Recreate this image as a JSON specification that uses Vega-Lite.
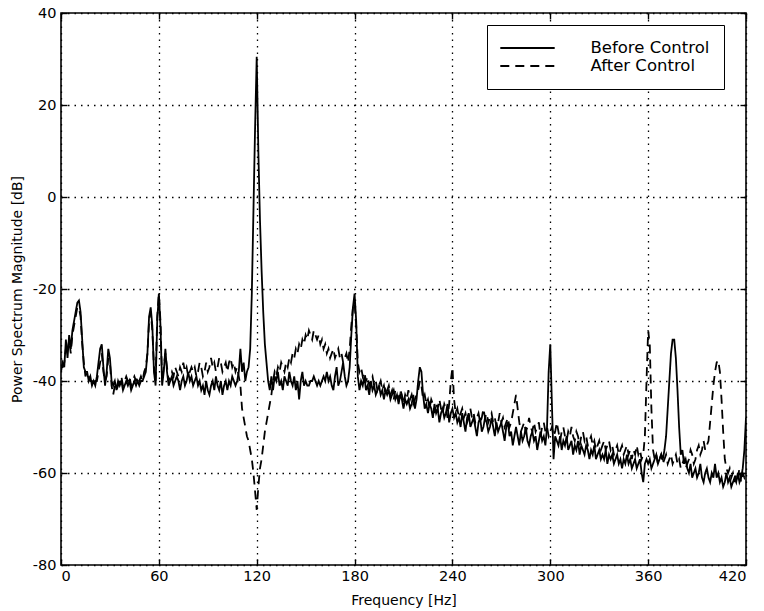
{
"$schema":"https://vega.github.io/schema/vega-lite/v6.json",
"width":685,"height":552,
"autosize":"none",
"padding":{"left":61,"top":13,"right":18,"bottom":46},
"background":"white",
"config":{
"font":"DejaVu Sans",
"view":{"stroke":"black","strokeWidth":1.6},
"axis":{"domain":false,"grid":true,"gridColor":"black","gridDash":[1.5,5],"gridWidth":1.3,"gridOpacity":1,"tickColor":"black","tickSize":-6,"tickWidth":1.4,"labelColor":"black","labelFont":"DejaVu Sans","labelFontSize":14.5,"titleFont":"DejaVu Sans","titleFontSize":14,"titleFontWeight":"normal","titleColor":"black"}
},
"data":{"values":[
{"f":0,"b":-38,"a":-37},{"f":1,"b":-36,"a":-37},{"f":2,"b":-37,"a":-36},{"f":3,"b":-31,"a":-33},{"f":4,"b":-35,"a":-34},{"f":5,"b":-30,"a":-31},{"f":6,"b":-33,"a":-34},{"f":7,"b":-29,"a":-30},{"f":8,"b":-27,"a":-28},{"f":9,"b":-25,"a":-26},
{"f":10,"b":-23,"a":-24},{"f":11,"b":-22.5,"a":-24},{"f":12,"b":-25,"a":-26},{"f":13,"b":-31,"a":-32},{"f":14,"b":-37,"a":-36},{"f":15,"b":-38,"a":-39},{"f":16,"b":-38,"a":-38},{"f":17,"b":-40,"a":-39},{"f":18,"b":-39,"a":-40},{"f":19,"b":-41,"a":-40},
{"f":20,"b":-40,"a":-41},{"f":21,"b":-41,"a":-40},{"f":22,"b":-39,"a":-40},{"f":23,"b":-36,"a":-38},{"f":24,"b":-33,"a":-36},{"f":25,"b":-32,"a":-34},{"f":26,"b":-37,"a":-38},{"f":27,"b":-41,"a":-40},{"f":28,"b":-38,"a":-39},{"f":29,"b":-33,"a":-35},
{"f":30,"b":-35,"a":-36},{"f":31,"b":-40,"a":-41},{"f":32,"b":-41,"a":-43},{"f":33,"b":-40,"a":-41},{"f":34,"b":-42,"a":-42},{"f":35,"b":-40,"a":-41},{"f":36,"b":-41,"a":-40},{"f":37,"b":-40,"a":-39},{"f":38,"b":-42,"a":-41},{"f":39,"b":-41,"a":-40},
{"f":40,"b":-40,"a":-39},{"f":41,"b":-41,"a":-40},{"f":42,"b":-40,"a":-39},{"f":43,"b":-42,"a":-41},{"f":44,"b":-41,"a":-40},{"f":45,"b":-40,"a":-39},{"f":46,"b":-41,"a":-40},{"f":47,"b":-40,"a":-39},{"f":48,"b":-41,"a":-40},{"f":49,"b":-40,"a":-39},
{"f":50,"b":-40,"a":-40},{"f":51,"b":-39,"a":-38},{"f":52,"b":-38,"a":-37},{"f":53,"b":-34,"a":-34},{"f":54,"b":-26,"a":-27},{"f":55,"b":-24,"a":-25},{"f":56,"b":-28,"a":-29},{"f":57,"b":-38,"a":-37},{"f":58,"b":-41,"a":-40},{"f":59,"b":-27,"a":-26},
{"f":60,"b":-21,"a":-21},{"f":61,"b":-28,"a":-27},{"f":62,"b":-41,"a":-40},{"f":63,"b":-38,"a":-37},{"f":64,"b":-33,"a":-34},{"f":65,"b":-38,"a":-37},{"f":66,"b":-41,"a":-40},{"f":67,"b":-40,"a":-39},{"f":68,"b":-39,"a":-38},{"f":69,"b":-41,"a":-39},
{"f":70,"b":-40,"a":-37},{"f":71,"b":-39,"a":-38},{"f":72,"b":-40,"a":-39},{"f":73,"b":-42,"a":-37},{"f":74,"b":-40,"a":-38},{"f":75,"b":-39,"a":-36},{"f":76,"b":-41,"a":-38},{"f":77,"b":-40,"a":-37},{"f":78,"b":-38,"a":-39},{"f":79,"b":-40,"a":-38},
{"f":80,"b":-39,"a":-37},{"f":81,"b":-41,"a":-38},{"f":82,"b":-40,"a":-37},{"f":83,"b":-39,"a":-39},{"f":84,"b":-41,"a":-38},{"f":85,"b":-40,"a":-36},{"f":86,"b":-42,"a":-37},{"f":87,"b":-41,"a":-39},{"f":88,"b":-43,"a":-38},{"f":89,"b":-40,"a":-36},
{"f":90,"b":-42,"a":-38},{"f":91,"b":-43,"a":-37},{"f":92,"b":-41,"a":-35},{"f":93,"b":-40,"a":-37},{"f":94,"b":-42,"a":-36},{"f":95,"b":-39,"a":-38},{"f":96,"b":-41,"a":-37},{"f":97,"b":-42,"a":-35},{"f":98,"b":-40,"a":-36},{"f":99,"b":-43,"a":-38},
{"f":100,"b":-41,"a":-37},{"f":101,"b":-40,"a":-36},{"f":102,"b":-42,"a":-38},{"f":103,"b":-40,"a":-36},{"f":104,"b":-41,"a":-35},{"f":105,"b":-39,"a":-37},{"f":106,"b":-40,"a":-36},{"f":107,"b":-41,"a":-38},{"f":108,"b":-40,"a":-37},{"f":109,"b":-38,"a":-39},
{"f":110,"b":-33,"a":-41},{"f":111,"b":-38,"a":-46},{"f":112,"b":-36,"a":-48},{"f":113,"b":-40,"a":-50},{"f":114,"b":-38,"a":-52},{"f":115,"b":-37,"a":-53},{"f":116,"b":-33,"a":-55},{"f":117,"b":-21,"a":-57},{"f":118,"b":-3,"a":-60},{"f":119,"b":15,"a":-64},
{"f":120,"b":30.5,"a":-68},{"f":121,"b":10,"a":-63},{"f":122,"b":-5,"a":-59},{"f":123,"b":-16,"a":-57},{"f":124,"b":-25,"a":-54},{"f":125,"b":-32,"a":-51},{"f":126,"b":-36,"a":-49},{"f":127,"b":-40,"a":-47},{"f":128,"b":-42,"a":-45},{"f":129,"b":-39,"a":-43},
{"f":130,"b":-42,"a":-40},{"f":131,"b":-39,"a":-38},{"f":132,"b":-40,"a":-39},{"f":133,"b":-38,"a":-37},{"f":134,"b":-41,"a":-38},{"f":135,"b":-40,"a":-36},{"f":136,"b":-42,"a":-37},{"f":137,"b":-39,"a":-38},{"f":138,"b":-40,"a":-36},{"f":139,"b":-41,"a":-37},
{"f":140,"b":-38,"a":-35},{"f":141,"b":-40,"a":-36},{"f":142,"b":-41,"a":-34},{"f":143,"b":-39,"a":-35},{"f":144,"b":-42,"a":-33},{"f":145,"b":-40,"a":-34},{"f":146,"b":-44,"a":-32},{"f":147,"b":-40,"a":-33},{"f":148,"b":-38,"a":-31},{"f":149,"b":-41,"a":-32},
{"f":150,"b":-40,"a":-30},{"f":151,"b":-41,"a":-31},{"f":152,"b":-41,"a":-29},{"f":153,"b":-40,"a":-30},{"f":154,"b":-40,"a":-31},{"f":155,"b":-39,"a":-29},{"f":156,"b":-40,"a":-30},{"f":157,"b":-41,"a":-31},{"f":158,"b":-40,"a":-30},{"f":159,"b":-41,"a":-32},
{"f":160,"b":-40,"a":-31},{"f":161,"b":-39,"a":-33},{"f":162,"b":-40,"a":-32},{"f":163,"b":-38,"a":-34},{"f":164,"b":-40,"a":-33},{"f":165,"b":-39,"a":-35},{"f":166,"b":-41,"a":-34},{"f":167,"b":-42,"a":-33},{"f":168,"b":-39,"a":-35},{"f":169,"b":-37,"a":-34},
{"f":170,"b":-41,"a":-33},{"f":171,"b":-40,"a":-35},{"f":172,"b":-38,"a":-34},{"f":173,"b":-36,"a":-36},{"f":174,"b":-39,"a":-35},{"f":175,"b":-41,"a":-34},{"f":176,"b":-40,"a":-36},{"f":177,"b":-37,"a":-33},{"f":178,"b":-30,"a":-28},{"f":179,"b":-24,"a":-24},
{"f":180,"b":-21,"a":-23},{"f":181,"b":-27,"a":-28},{"f":182,"b":-39,"a":-36},{"f":183,"b":-42,"a":-38},{"f":184,"b":-40,"a":-37},{"f":185,"b":-41,"a":-39},{"f":186,"b":-39,"a":-38},{"f":187,"b":-42,"a":-40},{"f":188,"b":-41,"a":-39},{"f":189,"b":-43,"a":-41},
{"f":190,"b":-40,"a":-40},{"f":191,"b":-42,"a":-39},{"f":192,"b":-41,"a":-41},{"f":193,"b":-43,"a":-40},{"f":194,"b":-42,"a":-42},{"f":195,"b":-41,"a":-41},{"f":196,"b":-43,"a":-40},{"f":197,"b":-42,"a":-42},{"f":198,"b":-44,"a":-41},{"f":199,"b":-42,"a":-43},
{"f":200,"b":-43,"a":-42},{"f":201,"b":-42,"a":-41},{"f":202,"b":-44,"a":-43},{"f":203,"b":-43,"a":-42},{"f":204,"b":-42,"a":-44},{"f":205,"b":-44,"a":-42},{"f":206,"b":-43,"a":-43},{"f":207,"b":-45,"a":-44},{"f":208,"b":-43,"a":-42},{"f":209,"b":-44,"a":-43},
{"f":210,"b":-46,"a":-45},{"f":211,"b":-44,"a":-43},{"f":212,"b":-45,"a":-44},{"f":213,"b":-44,"a":-42},{"f":214,"b":-46,"a":-44},{"f":215,"b":-45,"a":-43},{"f":216,"b":-43,"a":-45},{"f":217,"b":-46,"a":-44},{"f":218,"b":-44,"a":-43},{"f":219,"b":-40,"a":-42},
{"f":220,"b":-37,"a":-40},{"f":221,"b":-38,"a":-41},{"f":222,"b":-43,"a":-44},{"f":223,"b":-46,"a":-43},{"f":224,"b":-45,"a":-45},{"f":225,"b":-47,"a":-44},{"f":226,"b":-45,"a":-46},{"f":227,"b":-46,"a":-44},{"f":228,"b":-48,"a":-45},{"f":229,"b":-45,"a":-47},
{"f":230,"b":-47,"a":-45},{"f":231,"b":-46,"a":-46},{"f":232,"b":-49,"a":-44},{"f":233,"b":-47,"a":-46},{"f":234,"b":-46,"a":-47},{"f":235,"b":-48,"a":-45},{"f":236,"b":-47,"a":-46},{"f":237,"b":-45,"a":-48},{"f":238,"b":-49,"a":-45},{"f":239,"b":-47,"a":-40},
{"f":240,"b":-46,"a":-37},{"f":241,"b":-48,"a":-44},{"f":242,"b":-47,"a":-47},{"f":243,"b":-49,"a":-46},{"f":244,"b":-48,"a":-48},{"f":245,"b":-50,"a":-47},{"f":246,"b":-47,"a":-46},{"f":247,"b":-49,"a":-48},{"f":248,"b":-51,"a":-47},{"f":249,"b":-48,"a":-49},
{"f":250,"b":-47,"a":-48},{"f":251,"b":-50,"a":-46},{"f":252,"b":-49,"a":-48},{"f":253,"b":-48,"a":-47},{"f":254,"b":-50,"a":-49},{"f":255,"b":-52,"a":-48},{"f":256,"b":-49,"a":-47},{"f":257,"b":-48,"a":-49},{"f":258,"b":-51,"a":-48},{"f":259,"b":-50,"a":-46},
{"f":260,"b":-48,"a":-48},{"f":261,"b":-49,"a":-47},{"f":262,"b":-51,"a":-49},{"f":263,"b":-50,"a":-48},{"f":264,"b":-48,"a":-47},{"f":265,"b":-50,"a":-49},{"f":266,"b":-52,"a":-48},{"f":267,"b":-49,"a":-50},{"f":268,"b":-51,"a":-49},{"f":269,"b":-50,"a":-47},
{"f":270,"b":-49,"a":-49},{"f":271,"b":-51,"a":-48},{"f":272,"b":-53,"a":-50},{"f":273,"b":-50,"a":-49},{"f":274,"b":-49,"a":-48},{"f":275,"b":-52,"a":-50},{"f":276,"b":-51,"a":-49},{"f":277,"b":-54,"a":-47},{"f":278,"b":-52,"a":-45},{"f":279,"b":-50,"a":-43},
{"f":280,"b":-52,"a":-46},{"f":281,"b":-54,"a":-49},{"f":282,"b":-51,"a":-51},{"f":283,"b":-53,"a":-50},{"f":284,"b":-52,"a":-49},{"f":285,"b":-50,"a":-51},{"f":286,"b":-53,"a":-50},{"f":287,"b":-54,"a":-48},{"f":288,"b":-52,"a":-50},{"f":289,"b":-51,"a":-51},
{"f":290,"b":-53,"a":-49},{"f":291,"b":-52,"a":-51},{"f":292,"b":-55,"a":-50},{"f":293,"b":-53,"a":-49},{"f":294,"b":-51,"a":-52},{"f":295,"b":-53,"a":-50},{"f":296,"b":-52,"a":-49},{"f":297,"b":-54,"a":-51},{"f":298,"b":-50,"a":-50},{"f":299,"b":-38,"a":-52},
{"f":300,"b":-32,"a":-51},{"f":301,"b":-45,"a":-50},{"f":302,"b":-57,"a":-52},{"f":303,"b":-52,"a":-51},{"f":304,"b":-53,"a":-49},{"f":305,"b":-54,"a":-51},{"f":306,"b":-52,"a":-53},{"f":307,"b":-55,"a":-51},{"f":308,"b":-53,"a":-50},{"f":309,"b":-54,"a":-52},
{"f":310,"b":-52,"a":-53},{"f":311,"b":-55,"a":-51},{"f":312,"b":-54,"a":-52},{"f":313,"b":-53,"a":-50},{"f":314,"b":-56,"a":-52},{"f":315,"b":-54,"a":-53},{"f":316,"b":-55,"a":-51},{"f":317,"b":-53,"a":-52},{"f":318,"b":-56,"a":-54},{"f":319,"b":-54,"a":-52},
{"f":320,"b":-55,"a":-51},{"f":321,"b":-56,"a":-53},{"f":322,"b":-54,"a":-52},{"f":323,"b":-55,"a":-54},{"f":324,"b":-57,"a":-53},{"f":325,"b":-55,"a":-52},{"f":326,"b":-56,"a":-54},{"f":327,"b":-54,"a":-53},{"f":328,"b":-57,"a":-55},{"f":329,"b":-56,"a":-54},
{"f":330,"b":-55,"a":-53},{"f":331,"b":-57,"a":-55},{"f":332,"b":-56,"a":-54},{"f":333,"b":-57,"a":-53},{"f":334,"b":-55,"a":-55},{"f":335,"b":-58,"a":-54},{"f":336,"b":-56,"a":-53},{"f":337,"b":-57,"a":-55},{"f":338,"b":-56,"a":-54},{"f":339,"b":-58,"a":-56},
{"f":340,"b":-57,"a":-55},{"f":341,"b":-56,"a":-54},{"f":342,"b":-58,"a":-56},{"f":343,"b":-57,"a":-55},{"f":344,"b":-59,"a":-54},{"f":345,"b":-57,"a":-56},{"f":346,"b":-58,"a":-55},{"f":347,"b":-56,"a":-54},{"f":348,"b":-58,"a":-56},{"f":349,"b":-57,"a":-55},
{"f":350,"b":-59,"a":-57},{"f":351,"b":-58,"a":-55},{"f":352,"b":-57,"a":-56},{"f":353,"b":-59,"a":-54},{"f":354,"b":-58,"a":-56},{"f":355,"b":-57,"a":-55},{"f":356,"b":-60,"a":-57},{"f":357,"b":-62,"a":-56},{"f":358,"b":-58,"a":-52},{"f":359,"b":-57,"a":-40},
{"f":360,"b":-58,"a":-29},{"f":361,"b":-57,"a":-32},{"f":362,"b":-59,"a":-46},{"f":363,"b":-58,"a":-55},{"f":364,"b":-57,"a":-57},{"f":365,"b":-56,"a":-56},{"f":366,"b":-58,"a":-58},{"f":367,"b":-57,"a":-57},{"f":368,"b":-56,"a":-56},{"f":369,"b":-57,"a":-58},
{"f":370,"b":-55,"a":-57},{"f":371,"b":-52,"a":-56},{"f":372,"b":-46,"a":-58},{"f":373,"b":-40,"a":-57},{"f":374,"b":-34,"a":-56},{"f":375,"b":-31,"a":-58},{"f":376,"b":-31,"a":-57},{"f":377,"b":-35,"a":-56},{"f":378,"b":-42,"a":-58},{"f":379,"b":-50,"a":-57},
{"f":380,"b":-56,"a":-59},{"f":381,"b":-55,"a":-58},{"f":382,"b":-58,"a":-57},{"f":383,"b":-57,"a":-59},{"f":384,"b":-59,"a":-58},{"f":385,"b":-60,"a":-57},{"f":386,"b":-58,"a":-55},{"f":387,"b":-61,"a":-56},{"f":388,"b":-60,"a":-58},{"f":389,"b":-59,"a":-57},
{"f":390,"b":-61,"a":-55},{"f":391,"b":-60,"a":-54},{"f":392,"b":-58,"a":-56},{"f":393,"b":-61,"a":-55},{"f":394,"b":-62,"a":-53},{"f":395,"b":-60,"a":-55},{"f":396,"b":-59,"a":-54},{"f":397,"b":-61,"a":-53},{"f":398,"b":-62,"a":-49},{"f":399,"b":-60,"a":-45},
{"f":400,"b":-61,"a":-41},{"f":401,"b":-58,"a":-38},{"f":402,"b":-61,"a":-36},{"f":403,"b":-60,"a":-35.5},{"f":404,"b":-62,"a":-38},{"f":405,"b":-61,"a":-44},{"f":406,"b":-63,"a":-51},{"f":407,"b":-62,"a":-57},{"f":408,"b":-60,"a":-59},{"f":409,"b":-62,"a":-60},
{"f":410,"b":-61,"a":-59},{"f":411,"b":-63,"a":-61},{"f":412,"b":-62,"a":-60},{"f":413,"b":-61,"a":-62},{"f":414,"b":-62,"a":-60},{"f":415,"b":-60,"a":-61},{"f":416,"b":-62,"a":-59},{"f":417,"b":-61,"a":-62},{"f":418,"b":-59,"a":-60},{"f":419,"b":-55,"a":-61},
{"f":420,"b":-48,"a":-60}
]},
"transform":[{"fold":["b","a"],"as":["series","value"]}],
"layer":[
{"mark":{"type":"line","strokeWidth":1.8,"clip":true},
"encoding":{
"x":{"field":"f","type":"quantitative","scale":{"domain":[0,420],"nice":false},"axis":{"values":[0,60,120,180,240,300,360,420],"title":"Frequency [Hz]","labelPadding":10,"titleX":342.5,"titleY":35,"titleBaseline":"middle"}},
"y":{"field":"value","type":"quantitative","scale":{"domain":[-80,40],"nice":false},"axis":{"values":[-80,-60,-40,-20,0,20,40],"title":"Power Spectrum Magnitude [dB]","labelExpr":"'' + datum.value","labelPadding":11,"titleX":-44,"titleY":276,"titleBaseline":"middle","titleAngle":270}},
"color":{"field":"series","type":"nominal","scale":{"domain":["b","a"],"range":["black","black"]},
"legend":{"orient":"none","legendX":426,"legendY":12,"title":null,"symbolType":"M-3.4,0H3.4","symbolSize":256,"symbolStrokeWidth":1.8,"symbolOffset":17.5,"labelFontSize":16.5,"labelFont":"DejaVu Sans","labelColor":"black","labelExpr":"datum.value == 'b' ? 'Before Control  ' : 'After Control'","strokeColor":"black","fillColor":"white","padding":14,"labelOffset":54,"rowPadding":0}},
"strokeDash":{"field":"series","type":"nominal","scale":{"domain":["b","a"],"range":[[1,0],[9,6]]}}
}},
{"mark":{"type":"line","opacity":0},
"encoding":{
"x":{"field":"f","type":"quantitative","axis":{"orient":"top","labels":false,"title":null,"grid":false,"values":[0,60,120,180,240,300,360,420]}},
"y":{"field":"value","type":"quantitative","axis":{"orient":"right","labels":false,"title":null,"grid":false,"values":[-80,-60,-40,-20,0,20,40]}},
"detail":{"field":"series"}
}}
],
"resolve":{"axis":{"x":"independent","y":"independent"}}
}
